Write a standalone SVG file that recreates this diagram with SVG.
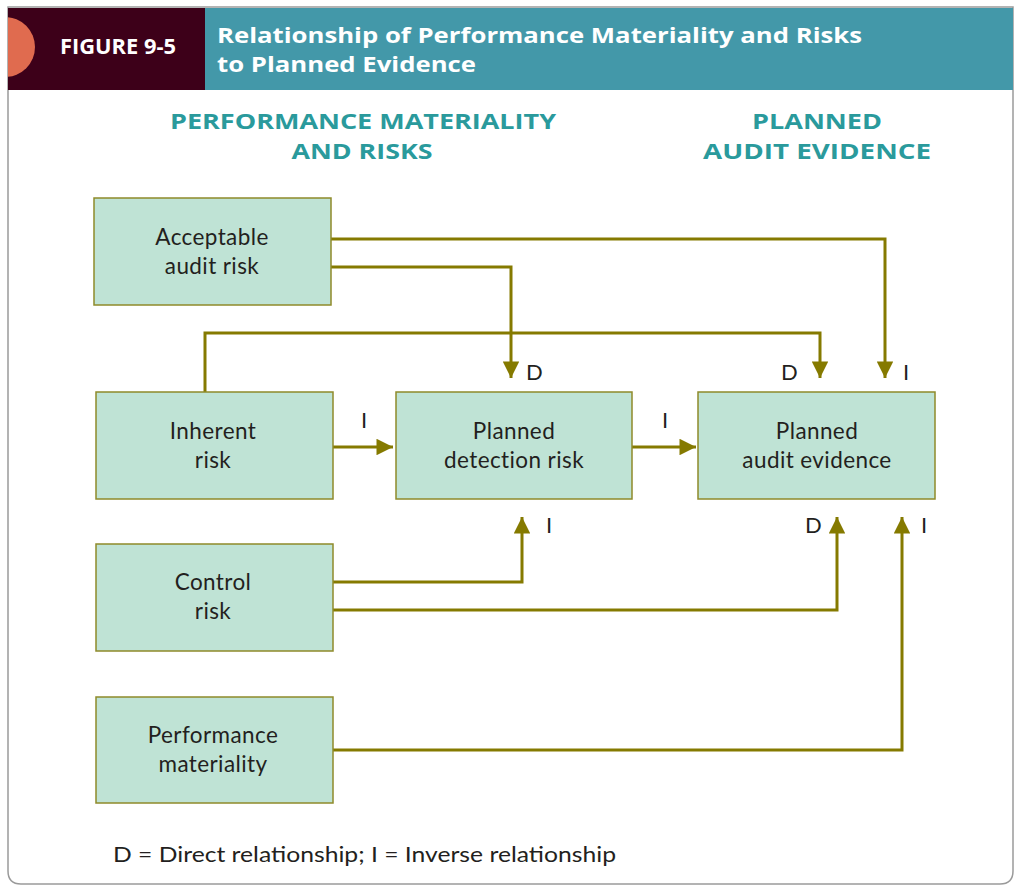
<svg xmlns="http://www.w3.org/2000/svg" width="1018" height="887" viewBox="0 0 1018 887">
<defs>
<style>
.box{fill:#bfe3d5;stroke:#8f8a2a;stroke-width:1.5}
.bt{font-family:Lato,"Liberation Sans",sans-serif;font-size:22.5px;letter-spacing:0.4px;fill:#231f20;text-anchor:middle}
.lbl{font-family:Lato,"Liberation Sans",sans-serif;font-size:22px;fill:#231f20}
.hd{font-family:"Open Sans",Lato,"Liberation Sans",sans-serif;font-size:22px;font-weight:bold;fill:#2a9a9c;text-anchor:middle}
.con{fill:none;stroke:#857a00;stroke-width:3}
.ttl{font-family:"Open Sans",Lato,"Liberation Sans",sans-serif;font-size:22px;font-weight:bold;fill:#ffffff}
</style>
<marker id="ah" viewBox="0 0 10 10" refX="10" refY="5" markerWidth="7.5" markerHeight="5.5" markerUnits="strokeWidth" orient="auto">
<path d="M0,0 L10,5 L0,10 z" fill="#857a00"/>
</marker>
<clipPath id="clipL"><rect x="8" y="8" width="200" height="82"/></clipPath>
</defs>
<rect width="1018" height="887" fill="#ffffff"/>
<path d="M8,7 H1013 V871 Q1013,884 1000,884 H21 Q8,884 8,871 Z" fill="#ffffff" stroke="#9a9a9a" stroke-width="1.5"/>
<g id="header">
<rect x="8" y="8" width="197" height="82" fill="#3d0019"/>
<rect x="205" y="8" width="808" height="82" fill="#4398a9"/>
<circle cx="5" cy="47" r="30" fill="#e06b4f" clip-path="url(#clipL)"/>
<text class="ttl" x="60" y="54" font-size="21" textLength="116" lengthAdjust="spacingAndGlyphs">FIGURE 9-5</text>
<text class="ttl" x="217" y="43" textLength="645" lengthAdjust="spacingAndGlyphs">Relationship of Performance Materiality and Risks</text>
<text class="ttl" x="217" y="72" textLength="259" lengthAdjust="spacingAndGlyphs">to Planned Evidence</text>
</g>
<g id="col-headers">
<text class="hd" x="363" y="129" textLength="386" lengthAdjust="spacingAndGlyphs">PERFORMANCE MATERIALITY</text>
<text class="hd" x="362" y="159" textLength="141" lengthAdjust="spacingAndGlyphs">AND RISKS</text>
<text class="hd" x="817" y="129" textLength="130" lengthAdjust="spacingAndGlyphs">PLANNED</text>
<text class="hd" x="817" y="159" textLength="228" lengthAdjust="spacingAndGlyphs">AUDIT EVIDENCE</text>
</g>
<g id="connectors">
<path class="con" d="M331,239 H885 V378" marker-end="url(#ah)"/>
<path class="con" d="M331,267 H511 V378" marker-end="url(#ah)"/>
<path class="con" d="M205,392 V333 H820 V378" marker-end="url(#ah)"/>
<path class="con" d="M333,447 H393" marker-end="url(#ah)"/>
<path class="con" d="M632,447 H696" marker-end="url(#ah)"/>
<path class="con" d="M333,582 H522 V517" marker-end="url(#ah)"/>
<path class="con" d="M333,610 H837 V517" marker-end="url(#ah)"/>
<path class="con" d="M333,750 H902 V517" marker-end="url(#ah)"/>
</g>
<g id="labels">
<text class="lbl" x="526" y="380">D</text>
<text class="lbl" x="781" y="380">D</text>
<text class="lbl" x="903" y="380">I</text>
<text class="lbl" x="361" y="428">I</text>
<text class="lbl" x="662" y="428">I</text>
<text class="lbl" x="546" y="533">I</text>
<text class="lbl" x="805" y="533">D</text>
<text class="lbl" x="921" y="533">I</text>
</g>
<g id="acceptable-audit-risk">
<rect class="box" x="94" y="198" width="237" height="107"/>
<text class="bt" x="212" y="245">Acceptable</text>
<text class="bt" x="212" y="274">audit risk</text>
</g>
<g id="inherent-risk">
<rect class="box" x="96" y="392" width="237" height="107"/>
<text class="bt" x="213" y="439">Inherent</text>
<text class="bt" x="213" y="468">risk</text>
</g>
<g id="planned-detection-risk">
<rect class="box" x="396" y="392" width="236" height="107"/>
<text class="bt" x="514" y="439">Planned</text>
<text class="bt" x="514" y="468">detection risk</text>
</g>
<g id="planned-audit-evidence">
<rect class="box" x="698" y="392" width="237" height="107"/>
<text class="bt" x="817" y="439">Planned</text>
<text class="bt" x="817" y="468">audit evidence</text>
</g>
<g id="control-risk">
<rect class="box" x="96" y="544" width="237" height="107"/>
<text class="bt" x="213" y="590">Control</text>
<text class="bt" x="213" y="619">risk</text>
</g>
<g id="performance-materiality">
<rect class="box" x="96" y="697" width="237" height="106"/>
<text class="bt" x="213" y="743">Performance</text>
<text class="bt" x="213" y="772">materiality</text>
</g>
<g id="legend">
<text class="lbl" x="113" y="862" textLength="503" lengthAdjust="spacingAndGlyphs">D = Direct relationship; I = Inverse relationship</text>
</g>
</svg>
